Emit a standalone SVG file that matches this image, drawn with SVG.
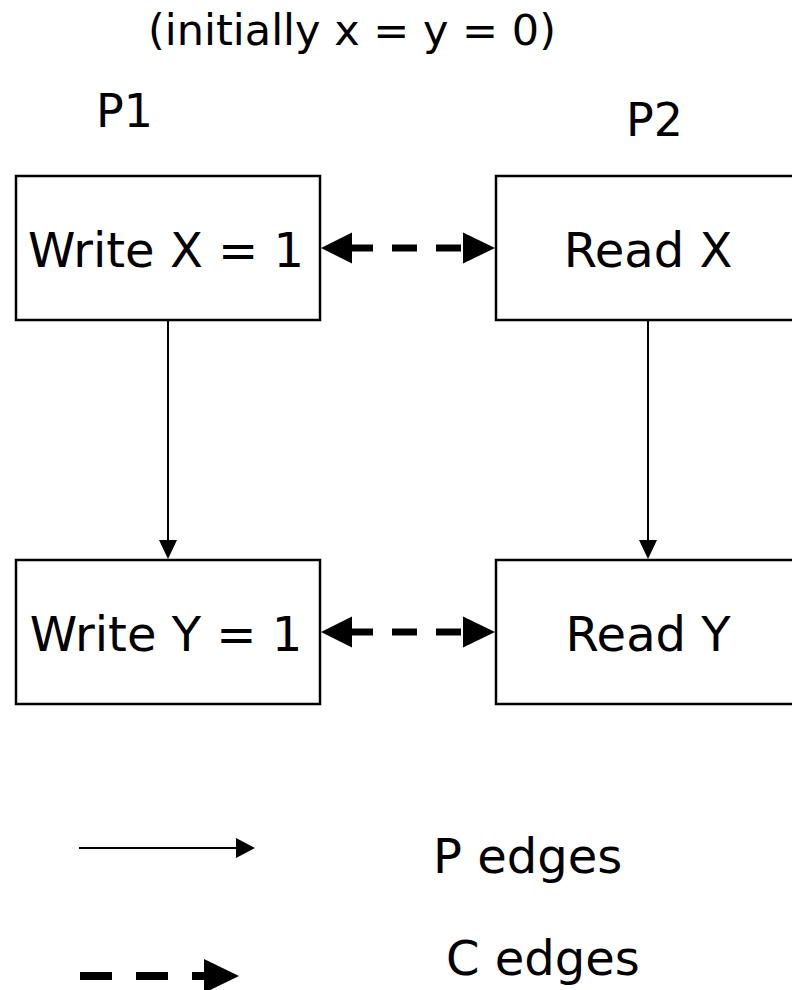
<svg xmlns="http://www.w3.org/2000/svg" width="792" height="990" viewBox="0 0 792 990">
  <style>
    text { font-family: "DejaVu Sans", Verdana, sans-serif; fill: #000; }
    .title { font-size: 43px; }
    .proc { font-size: 46px; }
    .label { font-size: 48px; text-anchor: middle; }
    .legend { font-size: 48px; }
    .box { fill: #fff; stroke: #000; stroke-width: 2.5; }
    .pedge { stroke: #000; stroke-width: 2; fill: none; }
    .cedge { stroke: #000; stroke-width: 7; fill: none; stroke-dasharray: 25 19; }
    .head { fill: #000; }
  </style>

  <rect width="792" height="990" fill="#fff"/>

  <text class="title" x="352" y="45" text-anchor="middle">(initially x = y = 0)</text>
  <text class="proc" x="96" y="127">P1</text>
  <text class="proc" x="626" y="136">P2</text>

  <g id="write-x">
    <rect class="box" x="16" y="176" width="304" height="144"/>
    <text class="label" x="166" y="267">Write X = 1</text>
  </g>
  <g id="read-x">
    <rect class="box" x="496" y="176" width="304" height="144"/>
    <text class="label" x="648" y="267">Read X</text>
  </g>
  <g id="write-y">
    <rect class="box" x="16" y="560" width="304" height="144"/>
    <text class="label" x="166" y="651">Write Y = 1</text>
  </g>
  <g id="read-y">
    <rect class="box" x="496" y="560" width="304" height="144"/>
    <text class="label" x="648" y="651">Read Y</text>
  </g>

  <g id="connectors">
    <!-- program-order edges -->
    <line class="pedge" x1="168" y1="320" x2="168" y2="542"/>
    <polygon class="head" points="159,540 177,540 168,559"/>
    <line class="pedge" x1="648" y1="320" x2="648" y2="542"/>
    <polygon class="head" points="639,540 657,540 648,559"/>

    <!-- conflict edges -->
    <line class="cedge" x1="348" y1="248" x2="466" y2="248"/>
    <polygon class="head" points="321,248 352,232.5 352,263.5"/>
    <polygon class="head" points="495,248 463,232.5 463,263.5"/>

    <line class="cedge" x1="348" y1="632" x2="466" y2="632"/>
    <polygon class="head" points="321,632 352,616.5 352,647.5"/>
    <polygon class="head" points="495,632 463,616.5 463,647.5"/>
  </g>

  <g id="legend">
    <line class="pedge" x1="79" y1="848" x2="238" y2="848"/>
    <polygon class="head" points="236,838 255,848 236,858"/>
    <text class="legend" x="433" y="873">P edges</text>

    <line x1="80" y1="976" x2="206" y2="976" stroke="#000" stroke-width="8" stroke-dasharray="32 24"/>
    <polygon class="head" points="204,959 239,976 204,993"/>
    <text class="legend" x="446" y="975">C edges</text>
  </g>
</svg>
